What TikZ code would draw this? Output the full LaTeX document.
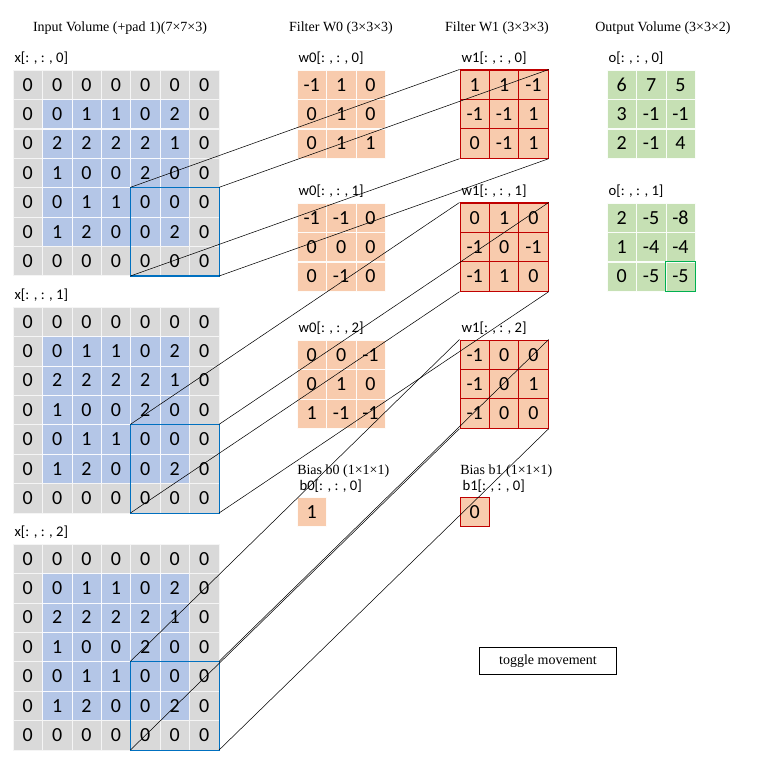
\documentclass[tikz,border=0pt]{standalone}
\usepackage{fontspec}
\setmainfont{Liberation Serif}
\newfontfamily\cellfam{Carlito}
\usetikzlibrary{positioning}
\definecolor{padgray}{HTML}{D9D9D9}
\definecolor{inblue}{HTML}{B4C6E7}
\definecolor{wtorange}{HTML}{F8CBAD}
\definecolor{outgreen}{HTML}{C6E0B4}
\definecolor{boxblue}{HTML}{0070C0}
\definecolor{wtred}{HTML}{C00000}
\definecolor{hlgreen}{HTML}{00B050}
\tikzset{
  cell/.style={minimum size=22pt,inner sep=0pt,font=\cellfam\fontsize{15}{15}\selectfont},
  pad/.style={cell,fill=padgray,draw=white!92!gray,line width=0.4pt},
  inner/.style={cell,fill=inblue,draw=white!92!inblue,line width=0.4pt},
  wt/.style={cell,fill=wtorange,draw=white!92!wtorange,line width=0.4pt},
  wtb/.style={cell,fill=wtorange,draw=wtred,line width=0.8pt},
  outcell/.style={cell,fill=outgreen,draw=white!92!outgreen,line width=0.4pt},
  slice/.style={anchor=south west,inner sep=1pt,font=\cellfam\fontsize{11}{11}\selectfont},
  head/.style={inner sep=0pt,font=\fontsize{10.5}{11}\selectfont},
  link/.style={black,line width=0.4pt}
}
% name, x, y, style, rows
\newcommand\cellgrid[5]{%
  \foreach \row [count=\r from 0] in {#5} {
    \foreach \v [count=\c from 0] in \row {
      \node[#4] (#1-\r-\c) at ({#2+14.7+29.4*\c},{#3+14.7+29.4*\r}) {\v};
    }
  }
}
\newcommand\inputgrid[2]{%
  \foreach \row [count=\r from 0] in {{0,0,0,0,0,0,0},{0,0,1,1,0,2,0},{0,2,2,2,2,1,0},{0,1,0,0,2,0,0},{0,0,1,1,0,0,0},{0,1,2,0,0,2,0},{0,0,0,0,0,0,0}} {
    \foreach \v [count=\c from 0] in \row {
      \pgfmathtruncatemacro\isin{(\r>0)*(\r<6)*(\c>0)*(\c<6)}
      \ifnum\isin=1 \def\st{inner}\else\def\st{pad}\fi
      \node[\st] (#1-\r-\c) at ({13+14.7+29.4*\c},{#2+14.7+29.4*\r}) {\v};
    }
  }
}
\begin{document}
\begin{tikzpicture}[x=0.75pt,y=-0.75pt]
\useasboundingbox (0,0) rectangle (769,767);

% headings
\node[head] (hin) at (120,28) {Input Volume (+pad 1)(7×7×3)};
\node[head] (hw0) at (341,28) {Filter W0 (3×3×3)};
\node[head] (hw1) at (497,28) {Filter W1 (3×3×3)};
\node[head] (hout) at (663,28) {Output Volume (3×3×2)};

% input volume
\inputgrid{x0}{70}
\inputgrid{x1}{307}
\inputgrid{x2}{544}
\node[slice] (lx0) at (13,66) {x[: , : , 0]};
\node[slice] (lx1) at (13,303) {x[: , : , 1]};
\node[slice] (lx2) at (13,540) {x[: , : , 2]};

% filter W0
\cellgrid{w00}{297}{70}{wt}{{-1,1,0},{0,1,0},{0,1,1}}
\cellgrid{w01}{297}{203}{wt}{{-1,-1,0},{0,0,0},{0,-1,0}}
\cellgrid{w02}{297}{340}{wt}{{0,0,-1},{0,1,0},{1,-1,-1}}
\node[slice] (lw00) at (297,66) {w0[: , : , 0]};
\node[slice] (lw01) at (297,199) {w0[: , : , 1]};
\node[slice] (lw02) at (297,336) {w0[: , : , 2]};
\node[head,anchor=south west] (lbb0) at (297,478) {Bias b0 (1×1×1)};
\node[slice] (lb0) at (298,494) {b0[: , : , 0]};
\cellgrid{b0}{297}{497}{wt}{{1}}

% filter W1
\cellgrid{w10}{460}{70}{wtb}{{1,1,-1},{-1,-1,1},{0,-1,1}}
\cellgrid{w11}{460}{203}{wtb}{{0,1,0},{-1,0,-1},{-1,1,0}}
\cellgrid{w12}{460}{340}{wtb}{{-1,0,0},{-1,0,1},{-1,0,0}}
\node[slice] (lw10) at (460,66) {w1[: , : , 0]};
\node[slice] (lw11) at (460,199) {w1[: , : , 1]};
\node[slice] (lw12) at (460,336) {w1[: , : , 2]};
\node[head,anchor=south west] (lbb1) at (460,478) {Bias b1 (1×1×1)};
\node[slice] (lb1) at (461,494) {b1[: , : , 0]};
\cellgrid{b1}{460}{497}{wtb}{{0}}

% output volume
\cellgrid{o0}{607}{70}{outcell}{{6,7,5},{3,-1,-1},{2,-1,4}}
\cellgrid{o1}{607}{203}{outcell}{{2,-5,-8},{1,-4,-4},{0,-5,-5}}
\node[slice] (lo0) at (607,66) {o[: , : , 0]};
\node[slice] (lo1) at (607,199) {o[: , : , 1]};
\draw[hlgreen,line width=1.2pt] (o1-2-2.north west) rectangle (o1-2-2.south east);

% receptive field and links
\foreach \k in {0,1,2} {
  \draw[boxblue,line width=0.8pt] (x\k-4-4.north west) rectangle (x\k-6-6.south east);
  \draw[link] (x\k-4-4.north west) -- (w1\k-0-0.north west);
  \draw[link] (x\k-4-6.north east) -- (w1\k-0-2.north east);
  \draw[link] (x\k-6-4.south west) -- (w1\k-2-0.south west);
  \draw[link] (x\k-6-6.south east) -- (w1\k-2-2.south east);
}

\node[draw,line width=0.8pt,minimum width=103pt,minimum height=20pt,inner sep=0pt,font=\fontsize{10.5}{11}\selectfont] (toggle) at (548,661) {toggle movement};
\end{tikzpicture}
\end{document}
